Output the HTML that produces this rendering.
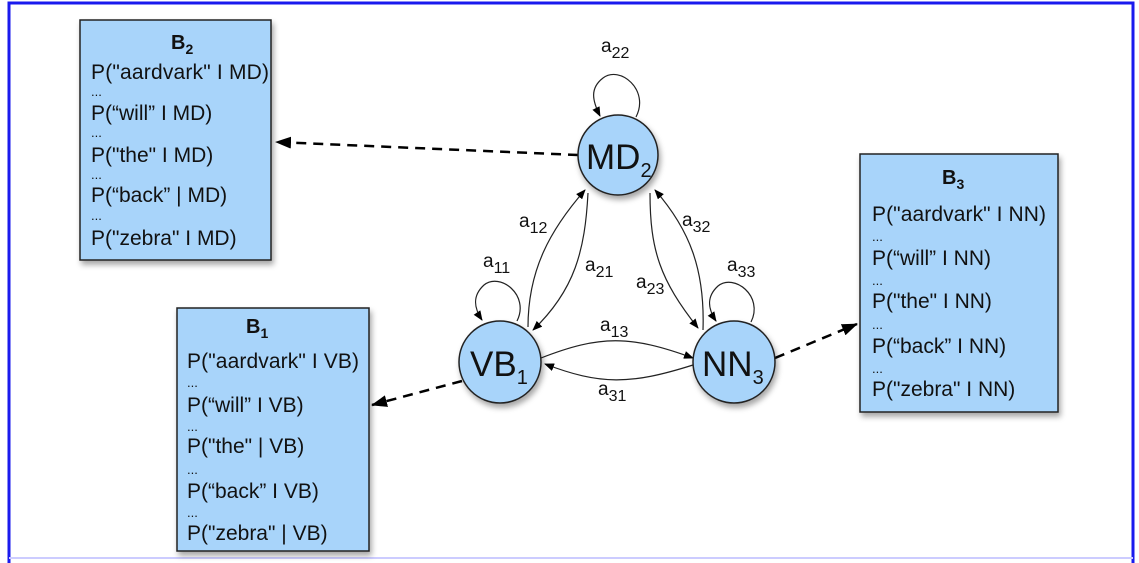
<!DOCTYPE html>
<html><head><meta charset="utf-8"><style>
html,body{margin:0;padding:0;background:#fff;}
svg{display:block;}
text{font-family:"Liberation Sans",sans-serif;fill:#111;}
.t{font-size:21px;}
.d{font-size:13px;}
.b{font-size:20px;font-weight:bold;}
.n{font-size:35px;}
.l{font-size:19px;}
</style></head><body>
<svg width="1139" height="563" viewBox="0 0 1139 563" xmlns="http://www.w3.org/2000/svg">
<defs>
<marker id="ar" markerWidth="10" markerHeight="8" refX="9" refY="4" orient="auto" markerUnits="userSpaceOnUse"><path d="M0,0 L10,4 L0,8 z" fill="#000"/></marker>
<marker id="ab" markerWidth="16" markerHeight="12" refX="15" refY="6" orient="auto" markerUnits="userSpaceOnUse"><path d="M0,0 L16,6 L0,12 z" fill="#000"/></marker>
<filter id="sh" x="-10%" y="-10%" width="130%" height="130%"><feDropShadow dx="2" dy="4" stdDeviation="3" flood-color="#000" flood-opacity="0.35"/></filter>
</defs>
<rect x="0" y="0" width="1139" height="563" fill="#fff"/>
<path d="M9,563 L9,3 L1133,3 L1133,563" fill="none" stroke="#1a1aee" stroke-width="3"/>
<line x1="9" y1="558" x2="1133" y2="558" stroke="#ccccff" stroke-width="2"/>

<rect x="80" y="20" width="191" height="240" fill="#a8d4fa" stroke="#222" stroke-width="1.5" filter="url(#sh)"/>
<rect x="177" y="308" width="192" height="243" fill="#a8d4fa" stroke="#222" stroke-width="1.5" filter="url(#sh)"/>
<rect x="860" y="154" width="198" height="258" fill="#a8d4fa" stroke="#222" stroke-width="1.5" filter="url(#sh)"/>

<text class="b" x="171" y="49">B<tspan font-size="14" dy="5">2</tspan></text>
<text class="t" x="91" y="79" textLength="178">P("aardvark" I MD)</text>
<text class="d" x="91" y="96">...</text>
<text class="t" x="91" y="120">P(“will” I MD)</text>
<text class="d" x="91" y="137">...</text>
<text class="t" x="91" y="162">P("the" I MD)</text>
<text class="d" x="91" y="179">...</text>
<text class="t" x="91" y="202">P(“back” | MD)</text>
<text class="d" x="91" y="220">...</text>
<text class="t" x="91" y="245">P("zebra" I MD)</text>

<text class="b" x="246" y="333">B<tspan font-size="14" dy="5">1</tspan></text>
<text class="t" x="187" y="368" textLength="172">P("aardvark" I VB)</text>
<text class="d" x="187" y="387">...</text>
<text class="t" x="187" y="412">P(“will” I VB)</text>
<text class="d" x="187" y="431">...</text>
<text class="t" x="187" y="453">P("the" | VB)</text>
<text class="d" x="187" y="474">...</text>
<text class="t" x="187" y="498">P(“back” I VB)</text>
<text class="d" x="187" y="517">...</text>
<text class="t" x="187" y="540">P("zebra" | VB)</text>

<text class="b" x="942" y="184">B<tspan font-size="14" dy="5">3</tspan></text>
<text class="t" x="872" y="221" textLength="174">P("aardvark" I NN)</text>
<text class="d" x="872" y="241">...</text>
<text class="t" x="872" y="265">P(“will” I NN)</text>
<text class="d" x="872" y="285">...</text>
<text class="t" x="872" y="308">P("the" I NN)</text>
<text class="d" x="872" y="329">...</text>
<text class="t" x="872" y="353">P(“back” I NN)</text>
<text class="d" x="872" y="373">...</text>
<text class="t" x="872" y="396">P("zebra" I NN)</text>

<line x1="578" y1="155" x2="276" y2="142" stroke="#000" stroke-width="2.5" stroke-dasharray="10,7" marker-end="url(#ab)"/>
<line x1="462" y1="381" x2="372" y2="405" stroke="#000" stroke-width="2.5" stroke-dasharray="10,7" marker-end="url(#ab)"/>
<line x1="775" y1="358" x2="857" y2="324" stroke="#000" stroke-width="2.5" stroke-dasharray="10,7" marker-end="url(#ab)"/>

<g fill="none" stroke="#222" stroke-width="1.2">
<path d="M636,117 C650,90 620,65 603,78 C590,88 592,100 600,116" marker-end="url(#ar)"/>
<path d="M517,321 C530,295 500,272 484,285 C472,296 474,308 482,320" marker-end="url(#ar)"/>
<path d="M751,322 C764,296 734,273 718,286 C706,297 708,309 716,321" marker-end="url(#ar)"/>
<path d="M528,327 C528,270 550,230 585,190" marker-end="url(#ar)"/>
<path d="M588,193 C585,250 575,290 533,330" marker-end="url(#ar)"/>
<path d="M650,193 C650,250 660,280 698,328" marker-end="url(#ar)"/>
<path d="M703,330 C705,270 690,230 655,190" marker-end="url(#ar)"/>
<path d="M541,358 C600,335 630,335 693,358" marker-end="url(#ar)"/>
<path d="M693,365 C630,385 600,385 545,364" marker-end="url(#ar)"/>
</g>

<g fill="#a8d4fa" stroke="#222" stroke-width="1.5">
<circle cx="618" cy="155" r="40" filter="url(#sh)"/>
<circle cx="500" cy="362" r="41" filter="url(#sh)"/>
<circle cx="734" cy="362" r="41" filter="url(#sh)"/>
</g>
<text class="n" x="586" y="169">MD<tspan font-size="20" dy="8">2</tspan></text>
<text class="n" x="470" y="376">VB<tspan font-size="20" dy="8">1</tspan></text>
<text class="n" x="702" y="376">NN<tspan font-size="20" dy="8">3</tspan></text>

<text class="l" x="601" y="52">a<tspan font-size="16" dy="6">22</tspan></text>
<text class="l" x="483" y="267">a<tspan font-size="16" dy="6">11</tspan></text>
<text class="l" x="727" y="271">a<tspan font-size="16" dy="6">33</tspan></text>
<text class="l" x="519" y="227">a<tspan font-size="16" dy="6">12</tspan></text>
<text class="l" x="585" y="271">a<tspan font-size="16" dy="6">21</tspan></text>
<text class="l" x="636" y="288">a<tspan font-size="16" dy="6">23</tspan></text>
<text class="l" x="682" y="226">a<tspan font-size="16" dy="6">32</tspan></text>
<text class="l" x="600" y="331">a<tspan font-size="16" dy="6">13</tspan></text>
<text class="l" x="598" y="395">a<tspan font-size="16" dy="6">31</tspan></text>
</svg>
</body></html>
